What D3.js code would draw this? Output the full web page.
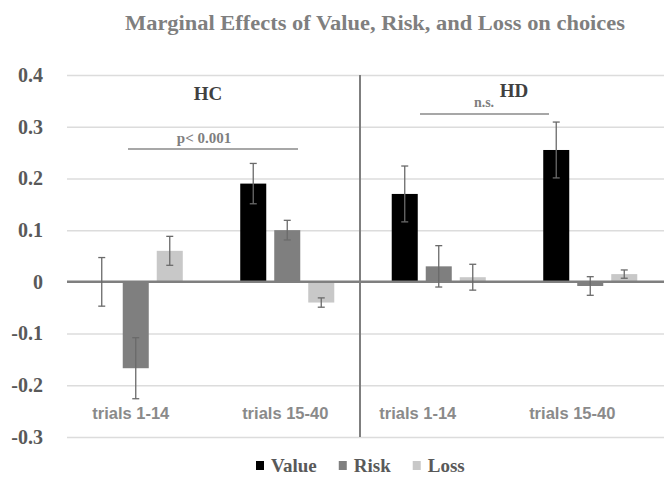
<!DOCTYPE html>
<html>
<head>
<meta charset="utf-8">
<script src="https://cdn.jsdelivr.net/npm/d3@7/dist/d3.min.js"></script>
<style>
  html, body { margin: 0; padding: 0; background: #fff; }
  svg { display: block; }
</style>
</head>
<body>
<svg id="chart" width="664" height="477"></svg>
<script>
// Marginal effects by group (HC / HD) and trial block
const categories = ["HC trials 1-14", "HC trials 15-40", "HD trials 1-14", "HD trials 15-40"];
const categoryLabels = ["trials 1-14", "trials 15-40", "trials 1-14", "trials 15-40"];
const seriesNames = ["Value", "Risk", "Loss"];
const valueMeans = [0.0, 0.19, 0.17, 0.255];
const valueErrors = [0.047, 0.039, 0.054, 0.054];
const riskMeans = [-0.167, 0.10, 0.03, -0.008];
const riskErrors = [0.059, 0.019, 0.040, 0.018];
const lossMeans = [0.06, -0.04, 0.009, 0.015];
const lossErrors = [0.028, 0.009, 0.025, 0.008];
const yTicks = [0.4, 0.3, 0.2, 0.1, 0, -0.1, -0.2, -0.3];
const yTickLabels = ["0.4", "0.3", "0.2", "0.1", "0", "-0.1", "-0.2", "-0.3"];
const groupNames = ["HC", "HD"];
const comparisonLabels = ["p< 0.001", "n.s."];

const colors = { Value: "#000000", Risk: "#7f7f7f", Loss: "#c8c8c8" };
const means = { Value: valueMeans, Risk: riskMeans, Loss: lossMeans };
const errors = { Value: valueErrors, Risk: riskErrors, Loss: lossErrors };

const svg = d3.select("#chart");
const serif = "'Liberation Serif', 'DejaVu Serif', serif";
const sans = "'Liberation Sans', Arial, sans-serif";

const gridLeft = 67, gridRight = 664;

const x0 = d3.scaleBand().domain(categories).range([60, 666]).padding(0);
const x1 = d3.scaleBand().domain(seriesNames).range([0, x0.bandwidth()])
  .paddingInner(0.235).paddingOuter(0.845);
const y = d3.scaleLinear().domain([-0.3, 0.4]).range([437, 75]);

// Title
svg.append("text")
  .attr("x", 375).attr("y", 30)
  .attr("text-anchor", "middle")
  .attr("font-family", serif).attr("font-weight", "bold")
  .attr("font-size", 20).attr("fill", "#7f7f7f")
  .attr("textLength", 500).attr("lengthAdjust", "spacingAndGlyphs")
  .text("Marginal Effects of Value, Risk, and Loss on choices");

// Horizontal gridlines and value axis labels
const yAxis = d3.axisLeft(y).tickValues(yTicks)
  .tickFormat((d, i) => yTickLabels[i])
  .tickSize(-(gridRight - gridLeft)).tickPadding(24);
const gy = svg.append("g").attr("transform", `translate(${gridLeft},0)`).call(yAxis);
gy.select(".domain").remove();
gy.selectAll(".tick line").attr("stroke", "#dcdcdc").attr("stroke-width", 1.5);
gy.selectAll(".tick text")
  .attr("font-family", serif).attr("font-weight", "bold")
  .attr("font-size", 20).attr("fill", "#595959");

// Group divider
const dividerX = x0(categories[2]) - 3;
svg.append("line")
  .attr("x1", dividerX).attr("x2", dividerX)
  .attr("y1", y(0.4)).attr("y2", y(-0.3))
  .attr("stroke", "#7f7f7f").attr("stroke-width", 2);

// Bars
const rows = [];
categories.forEach((c, ci) => {
  seriesNames.forEach(s => {
    rows.push({ cat: c, series: s, v: means[s][ci], e: errors[s][ci] });
  });
});

svg.append("g").selectAll("rect").data(rows).join("rect")
  .attr("x", d => x0(d.cat) + x1(d.series))
  .attr("width", x1.bandwidth())
  .attr("y", d => y(Math.max(0, d.v)))
  .attr("height", d => Math.abs(y(d.v) - y(0)))
  .attr("fill", d => colors[d.series]);

// Zero line
svg.append("line")
  .attr("x1", gridLeft).attr("x2", gridRight)
  .attr("y1", y(0)).attr("y2", y(0))
  .attr("stroke", "#7f7f7f").attr("stroke-width", 2.5);

// Error bars
const eb = svg.append("g").attr("stroke", "#6a6a6a").attr("stroke-width", 1.3);
rows.forEach(d => {
  const cx = x0(d.cat) + x1(d.series) + x1.bandwidth() / 2;
  const top = y(d.v + d.e), bot = y(d.v - d.e);
  eb.append("line").attr("x1", cx).attr("x2", cx).attr("y1", top).attr("y2", bot);
  eb.append("line").attr("x1", cx - 3.5).attr("x2", cx + 3.5).attr("y1", top).attr("y2", top);
  eb.append("line").attr("x1", cx - 3.5).attr("x2", cx + 3.5).attr("y1", bot).attr("y2", bot);
});

// Category labels
const labelShift = [-5, -2, -21, -18];
svg.append("g").selectAll("text").data(categories).join("text")
  .attr("x", (d, i) => x0(d) + x0.bandwidth() / 2 + labelShift[i])
  .attr("y", 419)
  .attr("text-anchor", "middle")
  .attr("font-family", sans).attr("font-weight", "bold")
  .attr("font-size", 16.5).attr("fill", "#8a8a8a")
  .text((d, i) => categoryLabels[i]);

// Group headers
const headerX = [208, 514];
const headerY = [100, 97];
groupNames.forEach((g, i) => {
  svg.append("text")
    .attr("x", headerX[i]).attr("y", headerY[i])
    .attr("text-anchor", "middle")
    .attr("font-family", serif).attr("font-weight", "bold")
    .attr("font-size", 19).attr("fill", "#404040")
    .text(g);
});

// Comparison brackets between trial blocks
const brackets = [
  { x1: 128, x2: 298, ly: 149, tx: 204, ty: 143 },
  { x1: 420, x2: 549, ly: 114, tx: 484, ty: 107 }
];
brackets.forEach((b, i) => {
  svg.append("line")
    .attr("x1", b.x1).attr("x2", b.x2).attr("y1", b.ly).attr("y2", b.ly)
    .attr("stroke", "#8a8a8a").attr("stroke-width", 1.5);
  svg.append("text")
    .attr("x", b.tx).attr("y", b.ty)
    .attr("text-anchor", "middle")
    .attr("font-family", serif).attr("font-weight", "bold")
    .attr("font-size", i === 0 ? 15 : 14).attr("fill", "#7f7f7f")
    .text(comparisonLabels[i]);
});

// Legend
const legend = svg.append("g");
let lx = 256;
seriesNames.forEach(s => {
  legend.append("rect")
    .attr("x", lx).attr("y", 461).attr("width", 8).attr("height", 9)
    .attr("fill", colors[s]);
  const t = legend.append("text")
    .attr("x", lx + 15).attr("y", 472)
    .attr("font-family", serif).attr("font-weight", "bold")
    .attr("font-size", 19).attr("fill", "#595959")
    .text(s);
  lx += 15 + t.node().getComputedTextLength() + 22;
});
</script>
</body>
</html>
